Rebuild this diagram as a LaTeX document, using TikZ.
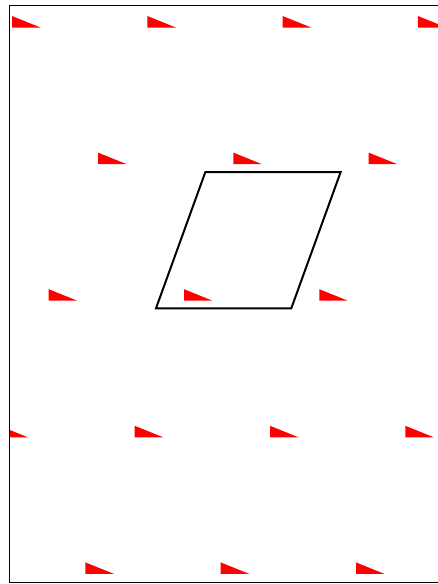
\documentclass[tikz,border=0pt]{standalone}
\begin{document}
\begin{tikzpicture}[x=1pt,y=-1pt]
  \tikzset{marker/.style={fill=red},cell/.style={draw,line width=2pt}}
  \useasboundingbox (0,0) rectangle (438,584);
  % frame
  \draw[line width=1pt] (9.5,5) rectangle (446,582.5);
  % lattice of markers
  \begin{scope}
    \clip (10,5.5) rectangle (446,582);
    \foreach \i in {-3,...,3}
      \foreach \j in {-2,...,2}
        \fill[marker,shift={({184+\i*135.3+\j*49.3},{300.7-\j*136.6})}] (0,0) -- (28.5,0) -- (0,-11.5) -- cycle;
  \end{scope}
  % unit cell
  \coordinate (p0) at (156,308.3);
  \coordinate (p1) at (291.3,308.3);
  \coordinate (p2) at (340.6,172.2);
  \coordinate (p3) at (205.3,172.2);
  \draw[cell] (p0) -- (p1) -- (p2) -- (p3) -- cycle;
\end{tikzpicture}
\end{document}
